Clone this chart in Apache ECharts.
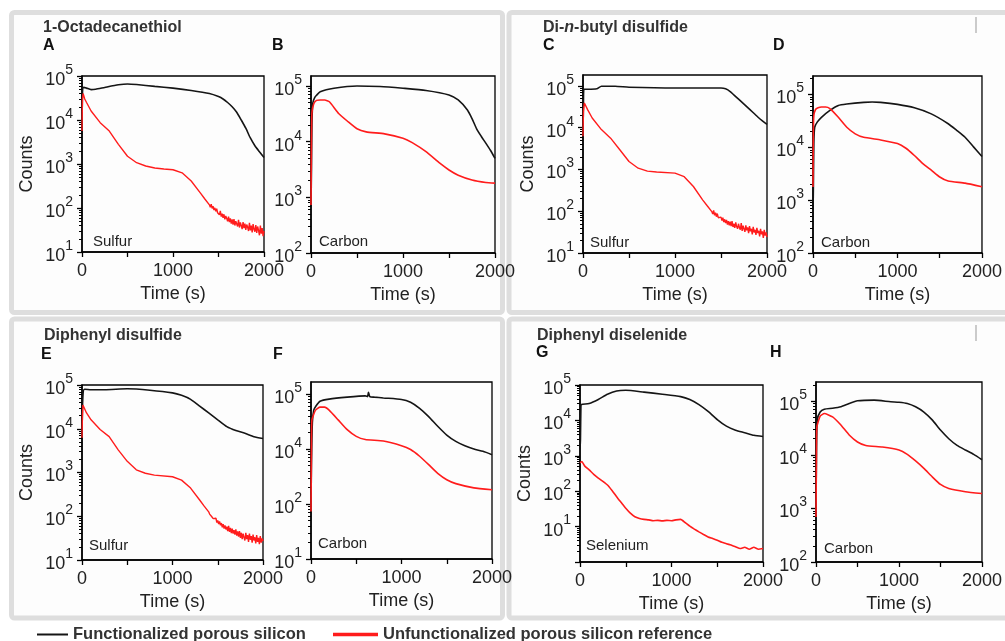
<!DOCTYPE html>
<html><head><meta charset="utf-8">
<script src="https://cdn.jsdelivr.net/npm/echarts@6/dist/echarts.min.js"></script>
<style>html,body{margin:0;padding:0;background:#fff}#c{width:1005px;height:641px}</style>
</head><body><div id="c"></div>
<script>
// ---------- DATA ----------
const NAME_F = 'Functionalized porous silicon';
const NAME_U = 'Unfunctionalized porous silicon reference';
const xTickLabels = ['0', '1000', '2000'];

// y tick superscripts, from the lowest decade of each panel upward
const yLabels_A = ['1','2','3','4','5'];
const yLabels_B = ['2','3','4','5'];
const yLabels_C = ['1','2','3','4','5'];
const yLabels_D = ['2','3','4','5'];
const yLabels_E = ['1','2','3','4','5'];
const yLabels_F = ['1','2','4','5'];
const yLabels_G = ['','1','2','3','4','5'];
const yLabels_H = ['2','3','4','5'];

const titles = ['1-Octadecanethiol', 'Di-n-butyl disulfide', 'Diphenyl disulfide', 'Diphenyl diselenide'];
const letters = ['A','B','C','D','E','F','G','H'];
const elements = ['Sulfur','Carbon','Sulfur','Carbon','Sulfur','Carbon','Selenium','Carbon'];

// [time (s), counts]
const A_func = [[0,8000],[4,30000],[8,52000],[20,55000],[50,53000],[100,49000],[150,50000],[250,55000],[400,63000],[500,66000],[600,64000],[800,58000],[1000,53000],[1200,47000],[1400,40000],[1500,34000],[1550,30000],[1600,25000],[1650,20000],[1700,15000],[1750,10000],[1800,6500],[1850,3900],[1900,2600],[1950,1900],[2000,1400]];
const A_ref = [[0,5600],[5,30000],[12,40000],[30,30000],[50,25000],[100,16000],[200,8700],[300,5600],[400,2800],[500,1500],[600,1070],[700,900],[800,810],[900,770],[1000,740],[1100,630],[1200,410],[1300,220],[1350,160],
  [1400,118],[1410,104],[1420,122],[1430,98],[1440,110],[1450,90],[1460,101],[1470,84],[1480,96],[1490,78],[1500,82],[1510,70],[1520,86],[1530,64],[1540,74],[1550,60],[1560,72],[1570,55],[1580,66],[1590,58],[1600,50],[1610,64],[1620,48],[1630,58],[1640,44],[1650,55],[1660,42],[1670,56],[1680,40],[1690,50],[1700,46],[1710,38],[1720,54],[1730,36],[1740,47],[1750,40],[1760,33],[1770,48],[1780,35],[1790,44],[1800,32],[1810,42],[1820,37],[1830,30],[1840,46],[1850,31],[1860,40],[1870,28],[1880,43],[1890,33],[1900,29],[1910,41],[1920,27],[1930,38],[1940,31],[1950,24],[1960,40],[1970,26],[1980,35],[1990,23],[2000,30]];
const B_func = [[0,700],[5,3000],[10,20000],[20,50000],[40,62000],[60,68000],[100,79000],[250,91000],[500,100000],[750,98000],[1000,91000],[1250,83000],[1500,69000],[1600,56000],[1700,37000],[1750,26000],[1800,17000],[1850,12500],[1900,9400],[1950,7000],[2000,5000]];
const B_ref = [[0,730],[5,10000],[10,33000],[30,48000],[60,55000],[100,56000],[150,56000],[200,52000],[300,32000],[400,23000],[500,17000],[600,15000],[800,13800],[1000,11500],[1100,9600],[1250,6600],[1400,4100],[1500,3100],[1600,2500],[1750,2050],[1900,1850],[2000,1800]];
const C_func = [[0,6200],[5,40000],[10,83000],[50,83000],[150,85000],[200,98000],[350,98000],[500,93000],[1000,89000],[1500,89000],[1550,85000],[1600,73000],[1700,46000],[1800,29000],[1900,18000],[1950,14500],[2000,12000]];
const C_ref = [[0,6200],[5,25000],[15,39000],[50,27000],[100,17000],[200,9000],[300,5600],[400,2950],[500,1550],[600,1070],[700,910],[800,870],[1000,815],[1100,670],[1200,390],[1300,187],[1350,135],
  [1400,98],[1410,86],[1420,104],[1430,80],[1440,92],[1450,74],[1460,88],[1470,70],[1480,78],[1490,64],[1500,72],[1510,60],[1520,70],[1530,55],[1540,64],[1550,52],[1560,62],[1570,48],[1580,58],[1590,46],[1600,56],[1610,44],[1620,58],[1630,42],[1640,50],[1650,40],[1660,54],[1670,43],[1680,38],[1690,50],[1700,41],[1710,36],[1720,52],[1730,34],[1740,45],[1750,38],[1760,32],[1770,46],[1780,35],[1790,41],[1800,30],[1810,44],[1820,33],[1830,38],[1840,28],[1850,42],[1860,31],[1870,36],[1880,27],[1890,40],[1900,30],[1910,34],[1920,25],[1930,38],[1940,28],[1950,33],[1960,23],[1970,36],[1980,26],[1990,31],[2000,24]];
const D_func = [[0,480],[5,2000],[10,12000],[20,24000],[50,30000],[100,37000],[200,50000],[300,62000],[400,66000],[600,71000],[700,72000],[800,71000],[1000,65000],[1200,56000],[1400,43000],[1600,28000],[1700,21000],[1800,15500],[1900,10200],[2000,6700]];
const D_ref = [[0,1780],[4,20000],[10,40000],[30,52000],[60,56000],[100,58000],[150,58000],[200,54000],[300,37000],[400,24000],[500,18000],[600,15500],[800,13800],[1000,11800],[1100,9600],[1200,7000],[1300,4900],[1400,3700],[1500,2750],[1600,2300],[1800,2100],[2000,1800]];
const E_func = [[0,6600],[5,30000],[15,75000],[30,80000],[100,78000],[250,78000],[500,82000],[750,76000],[1000,66000],[1100,58000],[1200,47000],[1300,33000],[1400,23000],[1500,16000],[1600,11200],[1700,9100],[1800,7900],[1900,6600],[2000,6000]];
const E_ref = [[0,6200],[5,20000],[10,35000],[50,23000],[100,16000],[200,9600],[300,6600],[400,3300],[500,1800],[600,1150],[700,960],[800,870],[1000,800],[1100,670],[1200,440],[1300,235],[1350,170],
  [1400,126],[1410,112],[1420,118],[1430,100],[1440,108],[1450,88],[1460,96],[1470,80],[1480,90],[1490,72],[1500,80],[1510,66],[1520,76],[1530,62],[1540,70],[1550,56],[1560,66],[1570,52],[1580,62],[1590,50],[1600,58],[1610,46],[1620,60],[1630,44],[1640,54],[1650,41],[1660,52],[1670,40],[1680,48],[1690,38],[1700,50],[1710,36],[1720,45],[1730,34],[1740,46],[1750,32],[1760,42],[1770,30],[1780,40],[1790,33],[1800,28],[1810,42],[1820,30],[1830,37],[1840,26],[1850,40],[1860,29],[1870,35],[1880,25],[1890,38],[1900,28],[1910,33],[1920,24],[1930,37],[1940,26],[1950,32],[1960,23],[1970,35],[1980,25],[1990,31],[2000,27]];
const F_func = [[0,910],[5,5000],[15,30000],[30,51000],[50,59000],[100,74000],[200,81000],[400,88000],[600,93000],[625,90000],[635,108000],[650,90000],[700,88000],[800,85000],[1000,80000],[1100,71000],[1200,55000],[1300,39000],[1400,26000],[1500,18000],[1600,13800],[1700,11500],[1800,10000],[1900,9100],[2000,7900]];
const F_ref = [[0,730],[5,10000],[10,34000],[50,51000],[100,58000],[150,58000],[200,51000],[300,34000],[400,22500],[500,17000],[600,14900],[800,14000],[1000,11500],[1100,9800],[1200,7400],[1300,5200],[1400,3600],[1500,2760],[1600,2350],[1800,1970],[2000,1820]];
const G_func = [[0,1500],[5,3000],[10,25000],[15,28000],[100,30000],[200,39000],[300,55000],[400,68000],[500,71000],[700,63000],[900,55000],[1100,47000],[1200,39000],[1300,28000],[1400,18000],[1500,10600],[1600,6900],[1700,5300],[1800,4500],[1900,3800],[2000,3500]];
const G_ref = [[0,630],[20,690],[50,520],[100,400],[150,300],[200,235],[250,190],[300,150],[350,105],[400,70],[450,48],[500,33],[550,24],[600,19],[650,17],[700,16],[750,15.5],[800,14.7],[850,15],[900,14.5],[950,15],[1000,14.7],[1050,15.5],[1100,16],[1150,13],[1200,10.3],[1250,8.5],[1300,7.1],[1350,6],[1400,5.1],[1450,4.6],[1500,4.1],[1550,3.6],[1600,3.3],[1650,3.0],[1700,2.7],[1750,2.4],[1800,2.6],[1850,2.3],[1900,2.6],[1950,2.3],[2000,2.4]];
const H_func = [[0,930],[5,8000],[15,45000],[50,63000],[100,71000],[200,74000],[300,79000],[400,91000],[500,102000],[700,105000],[900,98000],[1000,96000],[1100,91000],[1200,79000],[1300,63000],[1400,45000],[1500,29000],[1600,20000],[1700,15000],[1800,12300],[1900,10200],[2000,8100]];
const H_ref = [[0,690],[5,8000],[10,33000],[50,53000],[100,59000],[200,51000],[300,36000],[400,23500],[500,17400],[600,15000],[800,14000],[1000,12300],[1100,10200],[1200,7700],[1300,5600],[1400,3900],[1500,2800],[1600,2350],[1800,2050],[2000,1900]];

// ---------- LAYOUT ----------
const FONT = '"Liberation Sans", Arial, Helvetica, sans-serif';
const panels = [
  {g:{left:82, top:76, width:182, height:176}, yMin:10,  yMax:1e5,    minExp:1, labels:yLabels_A, f:A_func, r:A_ref, counts:true, noisy:true},
  {g:{left:311,top:76, width:184, height:177}, yMin:100, yMax:151000, minExp:2, labels:yLabels_B, f:B_func, r:B_ref},
  {g:{left:583,top:75, width:184, height:178}, yMin:10,  yMax:182000, minExp:1, labels:yLabels_C, f:C_func, r:C_ref, counts:true, noisy:true},
  {g:{left:813,top:76, width:185, height:177}, yMin:100, yMax:224000, minExp:2, labels:yLabels_D, f:D_func, r:D_ref},
  {g:{left:82, top:385,width:181, height:175}, yMin:10,  yMax:1e5,    minExp:1, labels:yLabels_E, f:E_func, r:E_ref, counts:true, noisy:true},
  {g:{left:311,top:382,width:181, height:177}, yMin:100, yMax:166000, minExp:2, labels:yLabels_F, f:F_func, r:F_ref},
  {g:{left:580,top:385,width:183, height:177}, yMin:1,   yMax:1e5,    minExp:0, labels:yLabels_G, f:G_func, r:G_ref, counts:true},
  {g:{left:816,top:382,width:184, height:180}, yMin:100, yMax:229000, minExp:2, labels:yLabels_H, f:H_func, r:H_ref}
];
const letterPos = [[43,46],[272,46],[543,46],[773,46],[41,355],[273,355],[536,353],[770,353]];
const elemPos = [[93,242],[319,242],[590,243],[821,243],[89,546],[318,544],[586,546],[824,549]];
const titlePos = [[43,28],[543,28],[44,336],[537,336]];

function decadeTicks(p) {
  const out = [];
  for (let e = p.minExp; Math.pow(10, e) <= p.yMax * 1.0001; e++) out.push(Math.pow(10, e));
  return out;
}
function minorTicks(p) {
  const out = [];
  for (let e = p.minExp; Math.pow(10, e) < p.yMax; e++)
    for (let k = 2; k <= 9; k++) { const v = k * Math.pow(10, e); if (v < p.yMax) out.push(v); }
  return out;
}

const grids = [], xAxes = [], yAxes = [], series = [];
panels.forEach((p, i) => {
  grids.push(Object.assign({show:true, borderColor:'#000', borderWidth:1.3, backgroundColor:'transparent'}, p.g));
  xAxes.push({
    type:'value', gridIndex:i, min:0, max:2000, interval:500,
    name:'Time (s)', nameLocation:'middle', nameGap:33,
    nameTextStyle:{fontFamily:FONT, fontSize:18, color:'#222'},
    axisLine:{show:true, lineStyle:{color:'#000', width:1.5}},
    axisTick:{show:true, length:5, lineStyle:{color:'#000', width:1.3}},
    axisLabel:{fontFamily:FONT, fontSize:18, color:'#222', margin:10, showMaxLabel:true,
      formatter:v => { const k = v / 1000; return Number.isInteger(k) && xTickLabels[k] !== undefined ? xTickLabels[k] : ''; }},
    splitLine:{show:false}
  });
  yAxes.push({
    type:'log', logBase:10, gridIndex:i, min:p.yMin, max:p.yMax,
    name: p.counts ? 'Counts' : '', nameLocation:'middle', nameGap:46,
    nameTextStyle:{fontFamily:FONT, fontSize:18, color:'#222'},
    axisLine:{show:true, lineStyle:{color:'#000', width:1.5}},
    axisTick:{show:true, length:5, customValues:decadeTicks(p), lineStyle:{color:'#000', width:1.3}},
    splitLine:{show:false},
    axisLabel:{margin:9, showMinLabel:true, showMaxLabel:true,
      formatter:v => {
        const e = Math.log10(v), r = Math.round(e);
        if (Math.abs(e - r) > 1e-6) return '';
        const s = p.labels[r - p.minExp];
        if (!s) return '';
        return '{b|10}{s|' + s + '}';
      },
      rich:{
        b:{fontFamily:FONT, fontSize:18, color:'#222', lineHeight:26, verticalAlign:'bottom'},
        s:{fontFamily:FONT, fontSize:14, color:'#222', lineHeight:14, verticalAlign:'top'}
      }}
  });
  // minor tick axis (same scale, ticks only)
  yAxes.push({
    type:'log', logBase:10, gridIndex:i, min:p.yMin, max:p.yMax, position:'left', offset:0,
    axisLine:{show:false}, splitLine:{show:false}, axisLabel:{show:false},
    axisTick:{show:true, length:3, customValues:minorTicks(p), lineStyle:{color:'#000', width:1}}
  });
  series.push({name:NAME_F, type:'line', xAxisIndex:i, yAxisIndex:2*i, data:p.f, showSymbol:false,
    color:'#151515', lineStyle:{color:'#151515', width:1.6}, smooth:0.2, z:2});
  series.push({name:NAME_U, type:'line', xAxisIndex:i, yAxisIndex:2*i, data:p.r, showSymbol:false,
    color:'#ff1c1c', lineStyle:{color:'#ff1c1c', width:p.noisy ? 1.4 : 1.6}, smooth:p.noisy ? 0 : 0.15, z:3});
});

const graphic = [];
// panel frames
[[11.5,12.5,491,300],[509,12.5,500,300],[11.5,319,491,299],[509,319,500,299]].forEach(b => {
  graphic.push({type:'rect', shape:{x:b[0], y:b[1], width:b[2], height:b[3], r:3},
    style:{fill:'#fdfdfd', stroke:'#dedede', lineWidth:5}, z:-10});
});
graphic.push({type:'line', shape:{x1:976, y1:17, x2:976, y2:33}, style:{stroke:'#999', lineWidth:1}});
graphic.push({type:'line', shape:{x1:976, y1:325, x2:976, y2:341}, style:{stroke:'#999', lineWidth:1}});
// titles
titles.forEach((t, i) => {
  let text = '{b|' + t + '}';
  if (t.indexOf('-n-') >= 0) {
    const parts = t.split('-n-');
    text = '{b|' + parts[0] + '-}{i|n}{b|-' + parts[1] + '}';
  }
  graphic.push({type:'text', x:titlePos[i][0], y:titlePos[i][1],
    style:{text:text, textVerticalAlign:'middle', verticalAlign:'middle',
      rich:{b:{fontFamily:FONT, fontWeight:'bold', fontSize:16, fill:'#333', color:'#333'},
            i:{fontFamily:FONT, fontWeight:'bold', fontStyle:'italic', fontSize:16, fill:'#333', color:'#333'}}}});
});
letters.forEach((l, i) => {
  graphic.push({type:'text', x:letterPos[i][0], y:letterPos[i][1],
    style:{text:l, font:'bold 16px ' + FONT, fill:'#111', textVerticalAlign:'middle', verticalAlign:'middle'}});
});
elements.forEach((e, i) => {
  graphic.push({type:'text', x:elemPos[i][0], y:elemPos[i][1],
    style:{text:e, font:'15px ' + FONT, fill:'#222', textVerticalAlign:'middle', verticalAlign:'middle'}});
});

const chart = echarts.init(document.getElementById('c'), null, {renderer:'canvas'});
chart.setOption({
  animation:false,
  backgroundColor:'#fff',
  grid:grids, xAxis:xAxes, yAxis:yAxes, series:series,
  legend:[
    {data:[NAME_F], left:37, top:626, padding:0, icon:'rect', itemWidth:31, itemHeight:2,
     textStyle:{fontFamily:FONT, fontWeight:'bold', fontSize:16.5, color:'#333'}},
    {data:[NAME_U], left:333, top:626, padding:0, icon:'rect', itemWidth:45, itemHeight:3.5,
     textStyle:{fontFamily:FONT, fontWeight:'bold', fontSize:16.5, color:'#333'}}
  ],
  graphic:graphic
});
</script></body></html>
